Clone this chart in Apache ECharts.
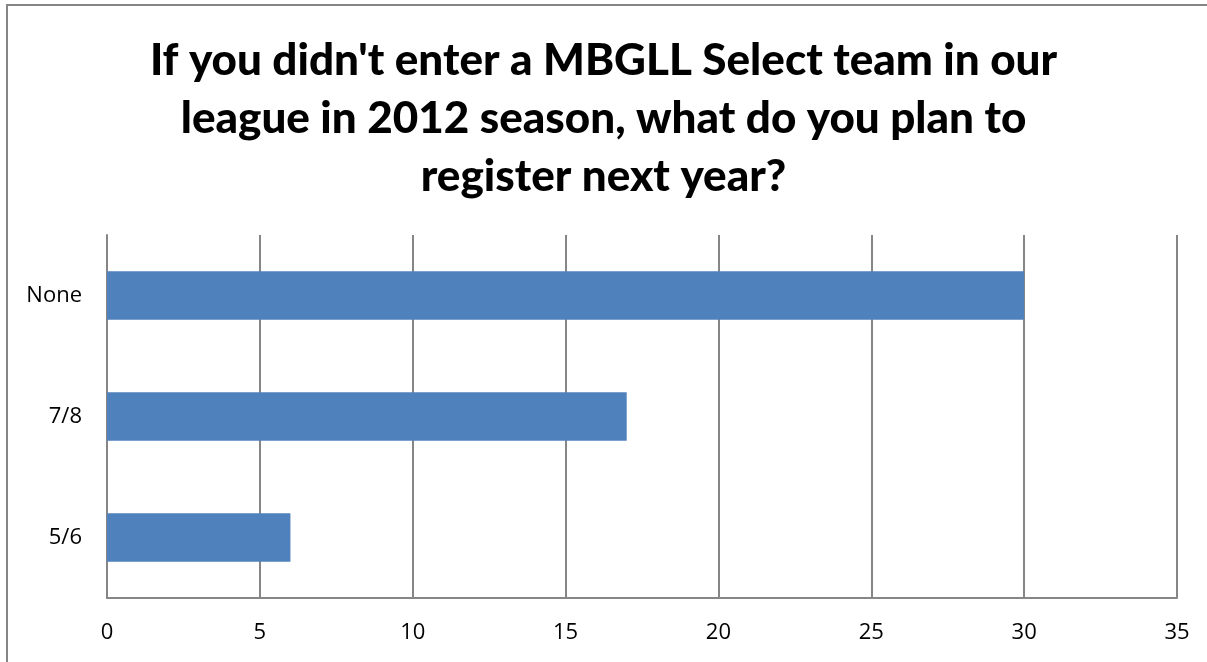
<!DOCTYPE html>
<html><head><meta charset="utf-8">
<script src="https://cdn.jsdelivr.net/npm/echarts@6/dist/echarts.min.js"></script>
<style>
html,body{margin:0;padding:0;background:#fff;overflow:hidden;}
#c{position:absolute;left:0;top:0;width:1207px;height:662px;}
#frame{position:absolute;left:6px;top:4px;width:1400px;height:800px;border:2px solid #868686;pointer-events:none;}
</style></head>
<body>
<div id="c"></div>
<div id="frame"></div>
<script>
const categories = ['5/6', '7/8', 'None'];
const values = [6, 17, 30];
const titleText = "If you didn't enter a MBGLL Select team in our\nleague in 2012 season, what do you plan to\nregister next year?";
const xMin = 0, xMax = 35, xStep = 5;

const chart = echarts.init(document.getElementById('c'), null, {renderer: 'canvas'});
chart.setOption({
  animation: false,
  backgroundColor: '#fff',
  title: {
    text: titleText,
    left: 'center',
    top: 27,
    textStyle: {fontFamily: 'Lato', fontWeight: 900, fontSize: 44, lineHeight: 58, color: '#000'}
  },
  grid: {left: 107, right: 30, top: 235, bottom: 64},
  xAxis: {
    type: 'value', min: xMin, max: xMax, interval: xStep,
    axisLine: {show: true, lineStyle: {color: '#868686', width: 2}},
    axisTick: {show: false},
    splitLine: {show: true, lineStyle: {color: '#868686', width: 2}},
    axisLabel: {color: '#000', fontSize: 22, fontFamily: 'Open Sans', margin: 24}
  },
  yAxis: {
    type: 'category', data: categories,
    axisLine: {show: true, lineStyle: {color: '#868686', width: 2}},
    axisTick: {show: false},
    axisLabel: {color: '#000', fontSize: 22, fontFamily: 'Open Sans', margin: 25}
  },
  series: [{
    type: 'bar', data: values,
    barCategoryGap: '60%',
    itemStyle: {color: '#4F81BD'}
  }]
});
</script>
</body></html>
